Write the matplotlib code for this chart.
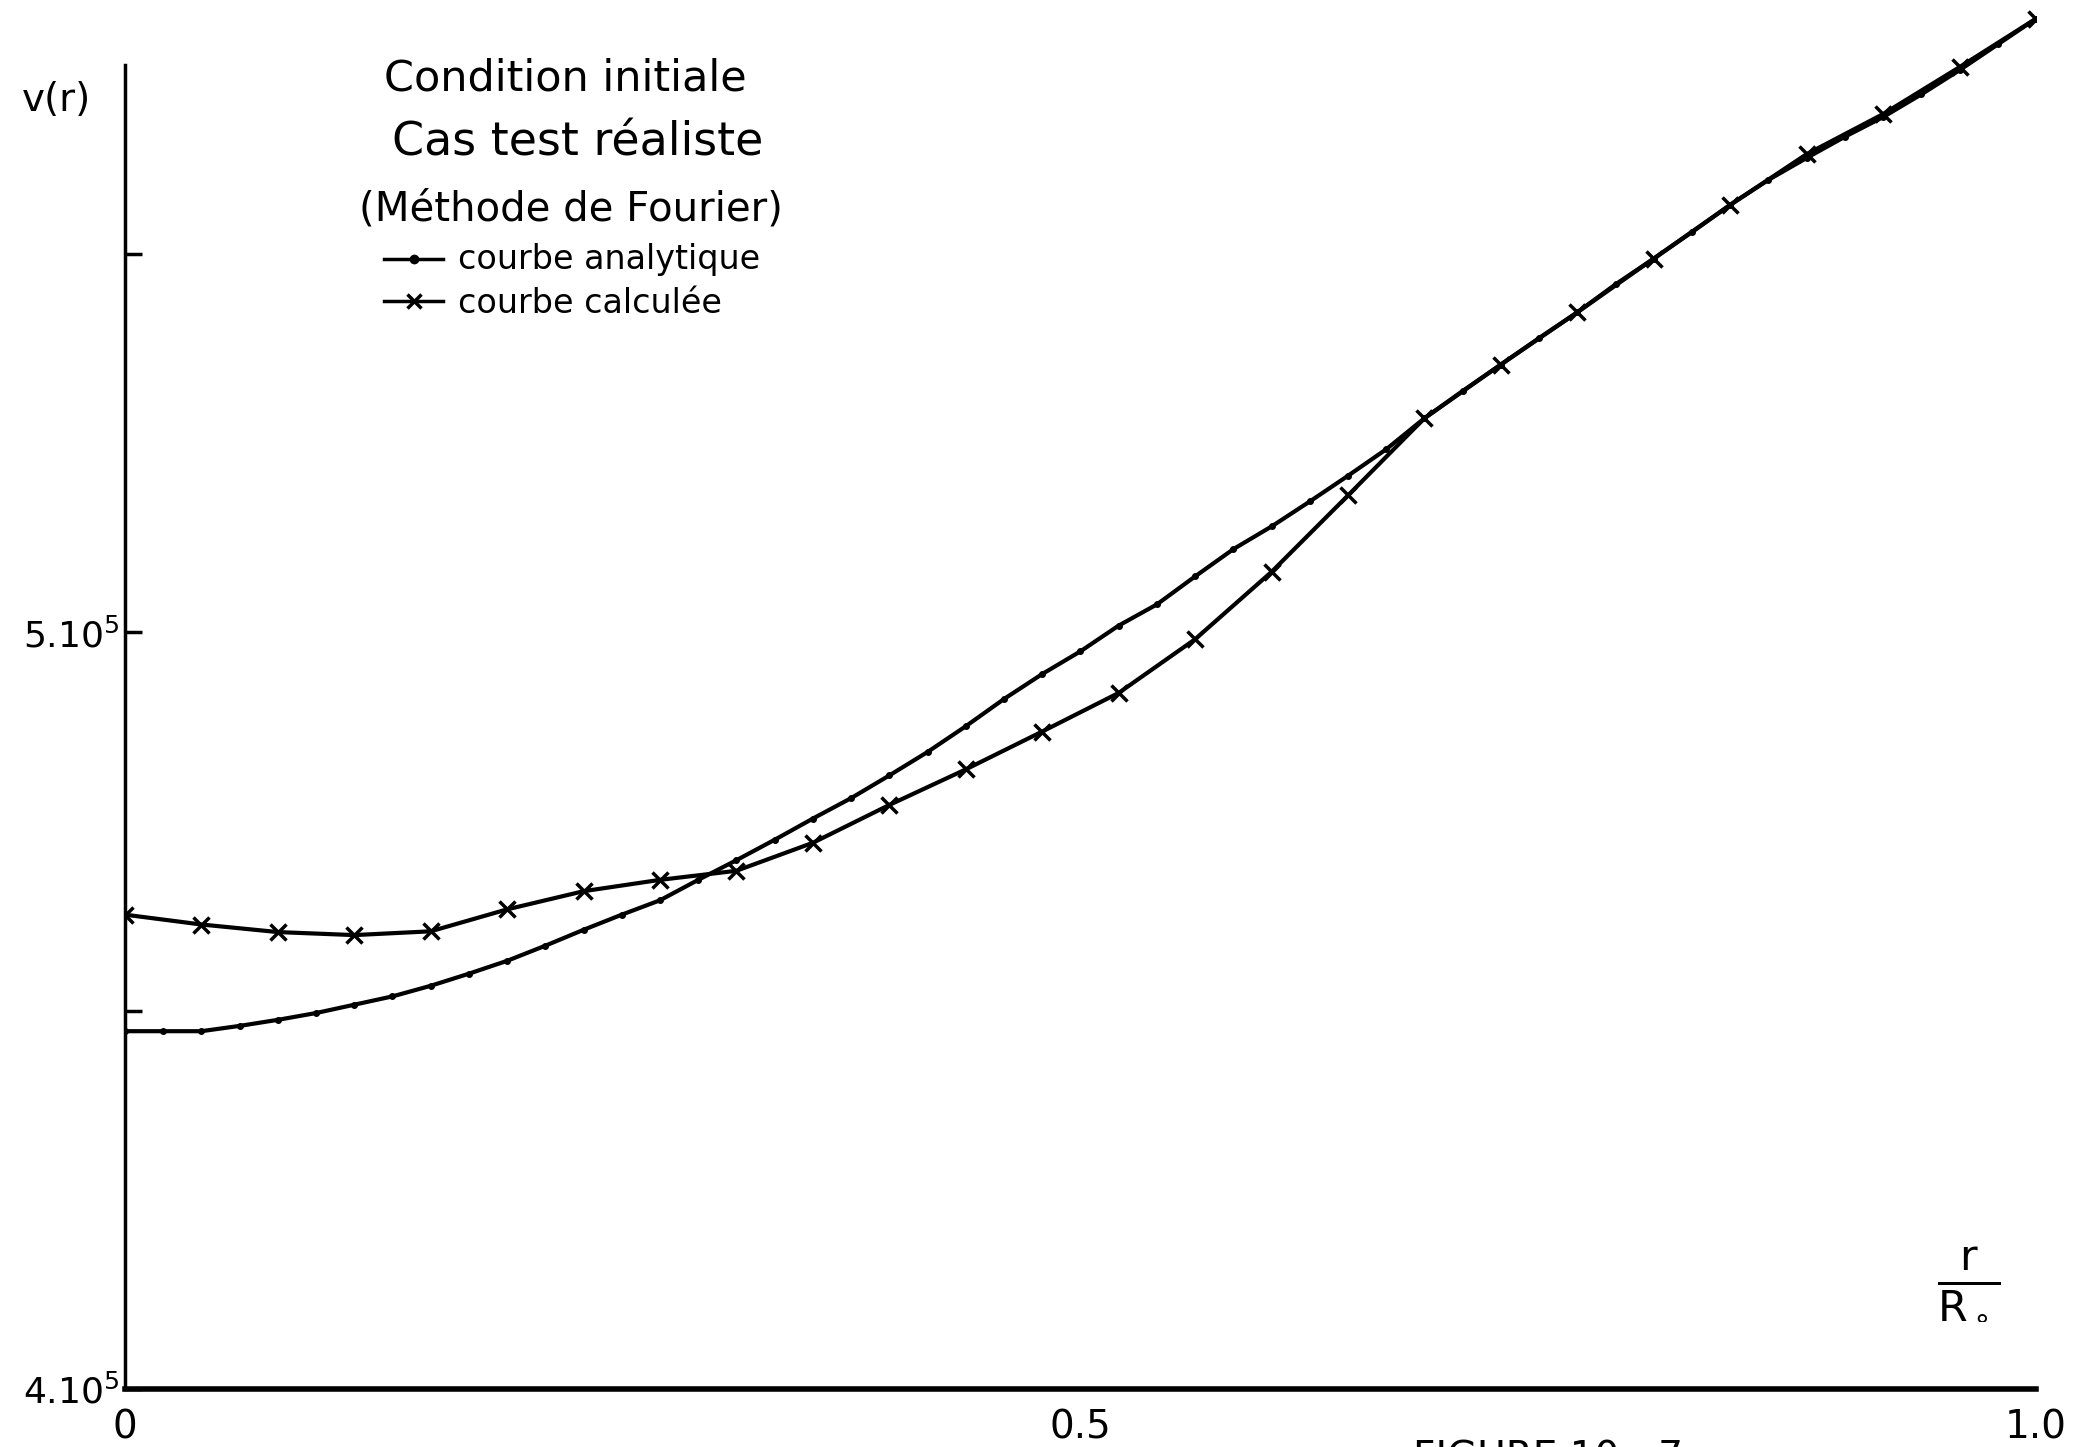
"""
Condition initiale, cas test réaliste (méthode de Fourier):
courbe analytique vs courbe calculée de v(r).
"""
import matplotlib
matplotlib.use("Agg")
import matplotlib.pyplot as plt
from matplotlib.lines import Line2D

# r / R0 for the analytic curve (dots) and the computed curve (crosses)
r_analytique = [i / 50 for i in range(51)]
v_analytique = [
    4.473, 4.473, 4.473, 4.480, 4.488, 4.497, 4.508, 4.519, 4.533, 4.549,
    4.566, 4.586, 4.607, 4.627, 4.646, 4.673, 4.699, 4.726, 4.754, 4.781,
    4.811, 4.842, 4.876, 4.912, 4.945, 4.975, 5.009, 5.037, 5.074, 5.110,
    5.140, 5.173, 5.207, 5.242, 5.283, 5.319, 5.354, 5.389, 5.423, 5.460,
    5.494, 5.529, 5.565, 5.598, 5.627, 5.655, 5.681, 5.711, 5.743, 5.777,
    5.811,
]

r_calculee = [i / 25 for i in range(26)]
v_calculee = [
    4.627, 4.614, 4.604, 4.600, 4.605, 4.634, 4.658, 4.673, 4.685, 4.722,
    4.772, 4.819, 4.869, 4.920, 4.991, 5.080, 5.181, 5.283, 5.354, 5.423,
    5.494, 5.565, 5.632, 5.685, 5.747, 5.811,
]

y_ticks = [4.0, 4.5, 5.0, 5.5]
y_labels = [r"$4.10^5$", "", r"$5.10^5$", ""]
x_ticks = [0.0, 0.5, 1.0]
x_labels = ["0", "0.5", "1.0"]

fig = plt.figure(figsize=(21, 14.47), dpi=100)
ax = fig.add_axes([0.0595, 0.040, 0.910, 0.957])

ax.plot(r_analytique, v_analytique, color="black", linewidth=3,
        marker="o", markersize=4)
ax.plot(r_calculee, v_calculee, color="black", linewidth=3,
        marker="x", markersize=11, markeredgewidth=2.5)

ax.set_xlim(0, 1.0)
ax.set_ylim(4.0, 5.83)

for side in ("top", "right"):
    ax.spines[side].set_visible(False)
ax.spines["left"].set_linewidth(2.5)
ax.spines["bottom"].set_linewidth(4)
ax.spines["left"].set_bounds(4.0, 5.75)

ax.set_yticks(y_ticks)
ax.set_yticklabels(y_labels)
ax.tick_params(axis="y", direction="in", length=12, width=2.5,
               labelsize=26, pad=4)
ax.set_xticks(x_ticks)
ax.set_xticklabels(x_labels)
ax.tick_params(axis="x", length=0, labelsize=28, pad=14)
ax.set_xticks([1.0], minor=True)
ax.tick_params(axis="x", which="minor", direction="inout", length=22, width=2.5)

ax.text(0.965, 4.14, r"$\frac{\mathrm{r}}{\mathrm{R}_\circ}$", fontsize=44,
        ha="center", va="center")

fig.text(0.027, 0.931, "v(r)", fontsize=28, ha="center", va="center")
fig.text(0.269, 0.946, "Condition initiale", fontsize=31, ha="center", va="center")
fig.text(0.275, 0.901, "Cas test réaliste", fontsize=33, ha="center", va="center")
fig.text(0.272, 0.855, "(Méthode de Fourier)", fontsize=29, ha="center", va="center")

# legend samples, drawn in figure coordinates
leg_x = [0.183, 0.197, 0.211]
fig.lines.append(Line2D(leg_x, [0.821] * 3, color="black", linewidth=2.5,
                        marker="o", markersize=6, markevery=[1],
                        transform=fig.transFigure))
fig.lines.append(Line2D(leg_x, [0.792] * 3, color="black", linewidth=2.5,
                        marker="x", markersize=10, markeredgewidth=2.5,
                        markevery=[1], transform=fig.transFigure))
fig.text(0.218, 0.821, "courbe analytique", fontsize=24, ha="left", va="center")
fig.text(0.218, 0.790, "courbe calculée", fontsize=24, ha="left", va="center")

fig.text(0.737, 0.005, "FIGURE 10 - 7", fontsize=28, ha="center", va="top")

fig.savefig("out.png", dpi=100)
plt.close(fig)
